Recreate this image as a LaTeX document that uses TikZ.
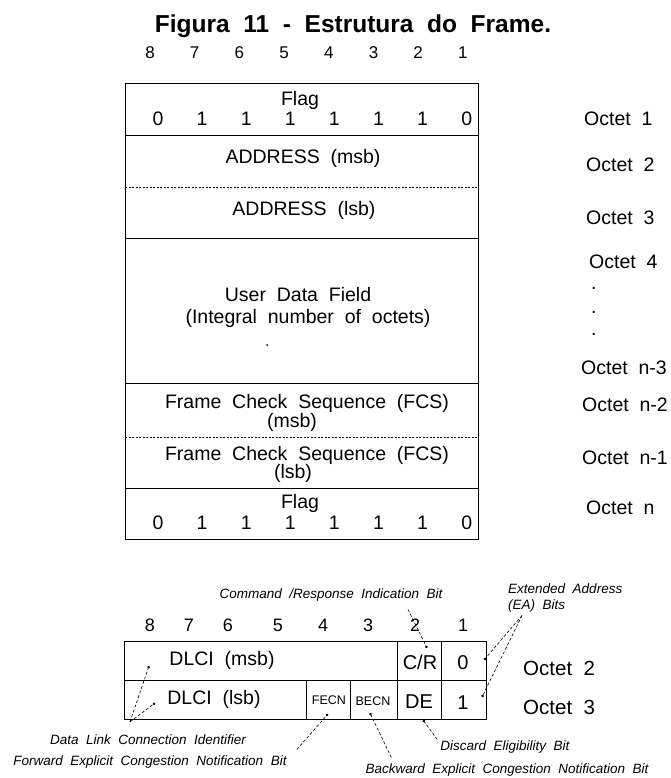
\documentclass[tikz,border=0pt]{standalone}
\usepackage{fontspec}
\setmainfont[WordSpace=2]{Liberation Sans}
\usepackage{tikz}
\usetikzlibrary{arrows.meta, positioning, calc}

\begin{document}
\begin{tikzpicture}[
    x=1pt, y=-1pt,
    frameline/.style={line width=0.8pt},
    sepline/.style={line width=0.6pt, dash pattern=on 2pt off 1.5pt},
    txt/.style={font=\fontsize{19.5}{22}\selectfont, inner sep=0pt},
    bitnum/.style={font=\fontsize{17}{19}\selectfont, inner sep=0pt},
    octet/.style={font=\fontsize{19.5}{22}\selectfont, anchor=west, inner sep=0pt},
    small/.style={font=\fontsize{12.5}{14}\selectfont, inner sep=0pt},
    note/.style={font=\fontsize{13.5}{16}\selectfont\itshape, inner sep=0pt},
    pointer/.style={line width=0.6pt, dash pattern=on 3pt off 2pt, -{Circle[length=2.5pt]}}
]
    \useasboundingbox (0,0) rectangle (670,778);

    \node[font=\fontsize{24.5}{27}\selectfont\bfseries, inner sep=0pt] (title) at (353,26) {Figura 11 - Estrutura do Frame.};

    % bit numbers above the frame
    \foreach \b [count=\i from 0] in {8,...,1}
        \node[bitnum] (top\b) at ({150+44.7*\i},53) {\b};

    % frame
    \draw[frameline] (125,83) rectangle (478,539);
    \draw[frameline] (125,135) -- (478,135);
    \draw[sepline] (125,187) -- (478,187);
    \draw[frameline] (125,238) -- (478,238);
    \draw[frameline] (125,383) -- (478,383);
    \draw[sepline] (125,437) -- (478,437);
    \draw[frameline] (125,488) -- (478,488);

    \node[txt] (flagA) at (300,100) {Flag};
    \foreach \v [count=\i from 0] in {0,1,1,1,1,1,1,0}
        \node[txt] (fa\i) at ({158+44.1*\i},119) {\v};

    \node[txt] (addrmsb) at (303,158) {ADDRESS (msb)};
    \node[txt] (addrlsb) at (304,210) {ADDRESS (lsb)};
    \node[txt] (userdata) at (298,295) {User Data Field};
    \node[txt] (integral) at (308,318) {(Integral number of octets)};
    \fill (267,345) circle (1);
    \node[txt] (fcsA) at (307,403) {Frame Check Sequence (FCS)};
    \node[txt] (fcsAmsb) at (292,422) {(msb)};
    \node[txt] (fcsB) at (307,455) {Frame Check Sequence (FCS)};
    \node[txt] (fcsBlsb) at (293,473) {(lsb)};

    \node[txt] (flagB) at (300,503) {Flag};
    \foreach \v [count=\i from 0] in {0,1,1,1,1,1,1,0}
        \node[txt] (fb\i) at ({158+44.1*\i},523) {\v};

    % octet labels
    \node[octet] (oct1) at (584,119) {Octet 1};
    \node[octet] (oct2) at (586,165) {Octet 2};
    \node[octet] (oct3) at (586,218) {Octet 3};
    \node[octet] (oct4) at (589,262) {Octet 4};
    \foreach \y [count=\i] in {288,312,334}
        \node[octet] (dot\i) at (591,\y) {.};
    \node[octet] (octn3) at (581,368) {Octet n-3};
    \node[octet] (octn2) at (582,405) {Octet n-2};
    \node[octet] (octn1) at (582,458) {Octet n-1};
    \node[octet] (octn) at (586,508) {Octet n};

    % address field detail
    \foreach \b/\x in {8/150,7/189,6/228,5/278,4/323,3/368,2/415,1/463}
        \node[bitnum, font=\fontsize{18}{20}\selectfont] (bot\b) at (\x,625) {\b};

    \draw[frameline] (124,641) rectangle (486,719);
    \draw[frameline] (124,680) -- (486,680);
    \draw[frameline] (397,641) -- (397,719);
    \draw[frameline] (441,641) -- (441,719);
    \draw[frameline] (306,680) -- (306,719);
    \draw[frameline] (350,680) -- (350,719);

    \node[txt] (dlcimsb) at (222,660) {DLCI (msb)};
    \node[txt] (dlcilsb) at (214,699) {DLCI (lsb)};
    \node[txt, font=\fontsize{20}{22}\selectfont] (cr) at (420,662) {C/R};
    \node[txt, font=\fontsize{20}{22}\selectfont] (ea0) at (463,663) {0};
    \node[small] (fecn) at (329,700) {FECN};
    \node[small] (becn) at (373,701) {BECN};
    \node[txt, font=\fontsize{20}{22}\selectfont] (de) at (419,702) {DE};
    \node[txt, font=\fontsize{20}{22}\selectfont] (ea1) at (463,703) {1};
    \node[octet, font=\fontsize{20.5}{22}\selectfont] (boct2) at (523,668) {Octet 2};
    \node[octet, font=\fontsize{20.5}{22}\selectfont] (boct3) at (523,707) {Octet 3};

    % notes
    \node[note] (crnote) at (331,595) {Command /Response Indication Bit};
    \node[note, align=left, anchor=west] (eanote) at (508,598) {Extended Address\\(EA) Bits};
    \node[note] (dlcinote) at (148,740) {Data Link Connection Identifier};
    \node[note] (fecnnote) at (150,762) {Forward Explicit Congestion Notification Bit};
    \node[note] (denote) at (505,747) {Discard Eligibility Bit};
    \node[note] (becnnote) at (507,770) {Backward Explicit Congestion Notification Bit};

    \coordinate (crTip) at (427,648);
    \coordinate (ea0Tip) at (484,660);
    \coordinate (ea1Tip) at (482,697);
    \coordinate (dlciTipA) at (149,666);
    \coordinate (dlciTipB) at (155,703);
    \coordinate (fecnTip) at (328,714);
    \coordinate (becnTip) at (370,713);
    \coordinate (deTip) at (423,720);

    \draw[pointer] ($(crnote.south)+(77,8)$) -- (crTip);
    \draw[pointer] ($(eanote.south west)+(14,3)$) -- (ea0Tip);
    \draw[pointer] ($(eanote.south west)+(14,3)$) -- (ea1Tip);
    \draw[pointer] ($(dlcinote.north)+(-18,-13)$) -- (dlciTipA);
    \draw[pointer] ($(dlcinote.north)+(-18,-13)$) -- (dlciTipB);
    \draw[pointer] ($(fecnnote.north east)+(10,-6)$) -- (fecnTip);
    \draw[pointer] ($(becnnote.north west)+(26,-6)$) -- (becnTip);
    \draw[pointer] ($(denote.north west)+(-3,-1)$) -- (deTip);
\end{tikzpicture}
\end{document}
